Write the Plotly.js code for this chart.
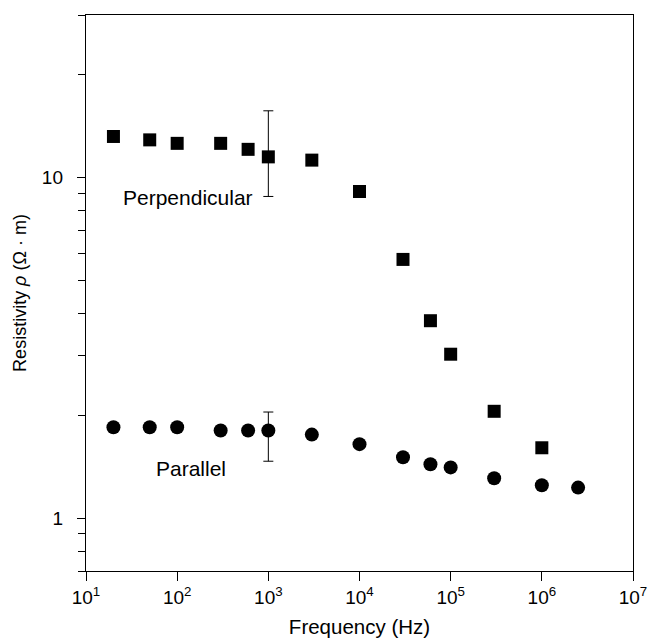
<!DOCTYPE html>
<html>
<head>
<meta charset="utf-8">
<script src="https://cdn.plot.ly/plotly-3.0.1.min.js"></script>
<style>html,body{margin:0;padding:0;background:#fff;}</style>
</head>
<body>
<div id="chart" style="width:649px;height:641px;"></div>
<script>
// Perpendicular (squares)
const perpFreq = [20, 50, 100, 300, 600, 1000, 3000, 10000, 30000, 60000, 100000, 300000, 1000000];
const perpRho  = [13.2, 12.9, 12.6, 12.6, 12.1, 11.5, 11.25, 9.1, 5.75, 3.8, 3.03, 2.06, 1.61];
// Parallel (circles)
const parFreq = [20, 50, 100, 300, 600, 1000, 3000, 10000, 30000, 60000, 100000, 300000, 1000000, 2500000];
const parRho  = [1.85, 1.85, 1.85, 1.81, 1.81, 1.81, 1.76, 1.65, 1.51, 1.44, 1.41, 1.31, 1.25, 1.23];
// Error bars (at 1 kHz)
const errFreq = 1000;
const perpErrHigh = 15.7, perpErrLow = 8.8;
const parErrHigh = 2.05, parErrLow = 1.47;
// Tick labels
const xTickVals = [10, 100, 1000, 10000, 100000, 1000000, 10000000];
const xTickText = ['10<sup>1</sup>', '10<sup>2</sup>', '10<sup>3</sup>', '10<sup>4</sup>', '10<sup>5</sup>', '10<sup>6</sup>', '10<sup>7</sup>'];
const yTickVals = [1, 10];
const yTickText = ['1', '10'];
const yMinorVals = [0.7, 0.8, 0.9, 2, 3, 4, 5, 6, 7, 8, 9, 20, 30];

function errPlus(xs, ys, hi) { return ys.map((v, i) => xs[i] === errFreq ? hi - v : NaN); }
function errMinus(xs, ys, lo) { return ys.map((v, i) => xs[i] === errFreq ? v - lo : NaN); }

const FONT = 'Liberation Sans, Arial, sans-serif';
const errStyle = {type: 'data', visible: true, color: '#000', thickness: 1, width: 5};

const traces = [
  {
    x: perpFreq, y: perpRho, type: 'scatter', mode: 'markers',
    marker: {symbol: 'square', size: 13, color: '#000'},
    error_y: Object.assign({}, errStyle, {symmetric: false,
      array: errPlus(perpFreq, perpRho, perpErrHigh),
      arrayminus: errMinus(perpFreq, perpRho, perpErrLow)}),
    hoverinfo: 'x+y'
  },
  {
    x: parFreq, y: parRho, type: 'scatter', mode: 'markers',
    marker: {symbol: 'circle', size: 14, color: '#000'},
    error_y: Object.assign({}, errStyle, {symmetric: false,
      array: errPlus(parFreq, parRho, parErrHigh),
      arrayminus: errMinus(parFreq, parRho, parErrLow)}),
    hoverinfo: 'x+y'
  }
];

const layout = {
  width: 649, height: 641,
  margin: {l: 86, r: 16, t: 15, b: 70},
  paper_bgcolor: '#fff', plot_bgcolor: '#fff',
  showlegend: false,
  font: {family: FONT, size: 18, color: '#000'},
  xaxis: {
    type: 'log', range: [1, 7],
    tickvals: xTickVals, ticktext: xTickText,
    ticks: 'outside', ticklen: 9, tickwidth: 1, tickcolor: '#000',
    showline: true, linecolor: '#000', linewidth: 1.2, mirror: true,
    showgrid: false, zeroline: false,
    tickfont: {size: 19, family: FONT},
    title: {text: 'Frequency (Hz)', font: {size: 20.5, family: FONT}, standoff: 12}
  },
  yaxis: {
    type: 'log', range: [Math.log10(0.7), Math.log10(30)],
    tickvals: yTickVals, ticktext: yTickText,
    ticks: 'outside', ticklen: 8, tickwidth: 1, tickcolor: '#000',
    ticklabelstandoff: 10,
    minor: {tickvals: yMinorVals, ticks: 'outside', ticklen: 7, tickwidth: 1, tickcolor: '#000', showgrid: false},
    showline: true, linecolor: '#000', linewidth: 1.2, mirror: true,
    showgrid: false, zeroline: false,
    tickfont: {size: 19, family: FONT},
    title: {text: 'Resistivity <i>ρ</i> (Ω · m)', font: {size: 18, family: FONT}, standoff: 10}
  },
  annotations: [
    {xref: 'paper', yref: 'paper', x: 0.1865, y: 0.671, text: 'Perpendicular', showarrow: false,
     font: {size: 21, family: FONT, color: '#000'}, xanchor: 'center', yanchor: 'middle'},
    {xref: 'paper', yref: 'paper', x: 0.192, y: 0.185, text: 'Parallel', showarrow: false,
     font: {size: 21, family: FONT, color: '#000'}, xanchor: 'center', yanchor: 'middle'}
  ]
};

Plotly.newPlot('chart', traces, layout, {displayModeBar: false, staticPlot: true});
</script>
</body>
</html>
